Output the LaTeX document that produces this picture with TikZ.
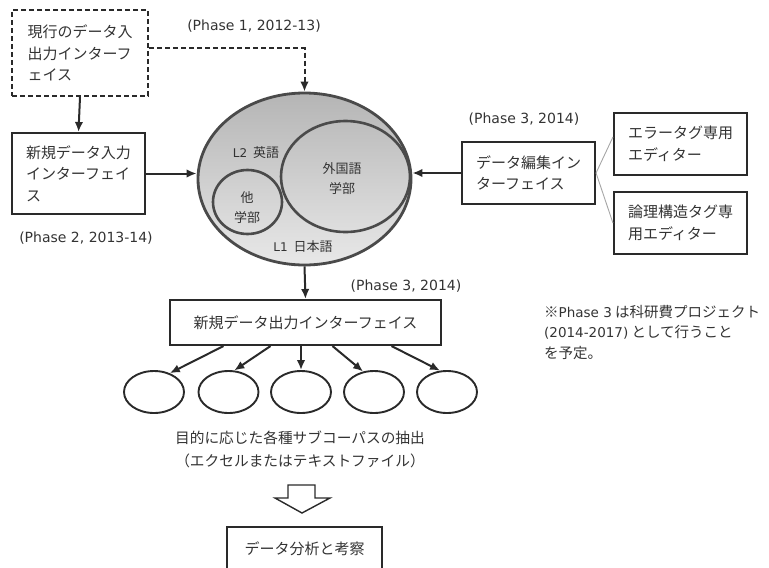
\documentclass[tikz,border=0pt]{standalone}
\usepackage{fontspec}
\setmainfont{Noto Sans CJK JP}
\newfontfamily\lat{DejaVu Sans}
\usetikzlibrary{shapes.geometric,arrows.meta}
\definecolor{txt}{HTML}{333333}
\definecolor{ln}{HTML}{2a2a2a}
\definecolor{ringc}{HTML}{4a4a4a}
\begin{document}
\begin{tikzpicture}[x=1pt,y=-1pt,
  box/.style={draw=ln, line width=2.1pt, inner sep=0pt, align=left, text=txt,
    font=\fontsize{15}{21.5}\selectfont},
  phase/.style={text=txt, inner sep=0pt, font=\lat\fontsize{14}{16}\selectfont},
  lbl/.style={text=txt, inner sep=0pt, align=center, font=\fontsize{13}{20}\selectfont},
  ring/.style={ellipse, draw=ringc, line width=2.6pt, inner sep=0pt},
  oval/.style={ellipse, draw=ln, line width=1.9pt, inner sep=0pt, minimum width=60pt, minimum height=42pt},
  arr/.style={draw=ln, line width=2pt, -{Latex[length=10pt,width=8.5pt]}},
  thin/.style={draw=gray!70, line width=0.9pt}
]
\useasboundingbox (0,0) rectangle (769,568);

% boxes
\node[box, dashed, dash pattern=on 5pt off 3pt, minimum width=136pt, minimum height=86pt] (d1) at (80,53)
  {現行のデータ入\\出力インターフ\\ェイス};
\node[box, minimum width=133pt, minimum height=81pt] (b2) at (78.5,173.5)
  {新規データ入力\\インターフェイ\\ス};
\node[box, minimum width=133pt, minimum height=62pt] (b5) at (528.5,173)
  {データ編集イン\\ターフェイス};
\node[box, minimum width=133pt, minimum height=62pt] (b6) at (680.5,144)
  {エラータグ専用\\エディター};
\node[box, minimum width=133pt, minimum height=62pt] (b7) at (680.5,223)
  {論理構造タグ専\\用エディター};
\node[box, minimum width=271pt, minimum height=45pt, align=center] (b3) at (305.5,322.5)
  {新規データ出力インターフェイス};
\node[box, minimum width=155pt, minimum height=43pt, align=center] (b4) at (304.5,548.5)
  {データ分析と考察};

% phase labels
\node[phase] (p1) at (254,26) {(Phase 1, 2012-13)};
\node[phase] (p2) at (86,238) {(Phase 2, 2013-14)};
\node[phase] (p3a) at (524,119) {(Phase 3, 2014)};
\node[phase] (p3b) at (406,286) {(Phase 3, 2014)};

% big ellipse
\node[ellipse, draw=ringc, line width=2.8pt, minimum width=213pt, minimum height=172pt,
  top color=black!29, bottom color=black!9] (E) at (304.5,179) {};
\node[ring, minimum width=129pt, minimum height=111pt] (F) at (345.5,176.5) {};
\node[ring, minimum width=69pt, minimum height=64pt] (G) at (247.5,202) {};
\node[lbl] (tF) at (342,179) {外国語\\学部};
\node[lbl] (tG) at (247,208) {他\\学部};
\node[lbl] (tL2) at (256,153) {{\lat\fontsize{12}{14}\selectfont L2}\hspace{6pt}英語};
\node[lbl] (tL1) at (303,247) {{\lat\fontsize{12}{14}\selectfont L1}\hspace{6pt}日本語};

% output ovals
\node[oval] (o1) at (154,392) {};
\node[oval] (o2) at (228.5,392) {};
\node[oval] (o3) at (301,392) {};
\node[oval] (o4) at (374,392) {};
\node[oval] (o5) at (447,392) {};

% captions
\node[text=txt, inner sep=0pt, align=center, font=\fontsize{14.7}{23}\selectfont] (cap) at (300,449)
  {目的に応じた各種サブコーパスの抽出\\（エクセルまたはテキストファイル）};
\node[text=txt, inner sep=0pt, anchor=north west, align=left, font=\fontsize{14.5}{20.5}\selectfont] (note) at (544,305)
  {※{\lat\fontsize{13.5}{14}\selectfont Phase 3} は科研費プロジェクト\\{\lat\fontsize{13.5}{14}\selectfont (2014-2017)} として行うこと\\を予定。};

% connectors
\draw[arr, dashed, dash pattern=on 5pt off 3pt] ([yshift=5pt]d1.east) -| (E.north);
\draw[arr] (d1.south) -- (b2.north);
\draw[arr] (b2.east) -- (b2.east -| E.west);
\draw[arr] (b5.west) -- (b5.west -| E.east);
\draw[arr] (E.south) -- (b3.north);
\draw[thin] (b5.east) -- ([yshift=7pt]b6.west);
\draw[thin] (b5.east) -- (b7.west);
\draw[arr] ([xshift=-82pt]b3.south) -- (o1.50);
\draw[arr] ([xshift=-35pt]b3.south) -- (o2.75);
\draw[arr] (b3.south -| o3.north) -- (o3.north);
\draw[arr] ([xshift=27pt]b3.south) -- (o4.118);
\draw[arr] ([xshift=86pt]b3.south) -- (o5.108);

% hollow arrow
\draw[draw=ln, fill=white, line width=1.4pt, line join=miter]
  (288,485) -- (315,485) -- (315,498) -- (330,498) -- (302,513) -- (275,498) -- (288,498) -- cycle;
\end{tikzpicture}
\end{document}
